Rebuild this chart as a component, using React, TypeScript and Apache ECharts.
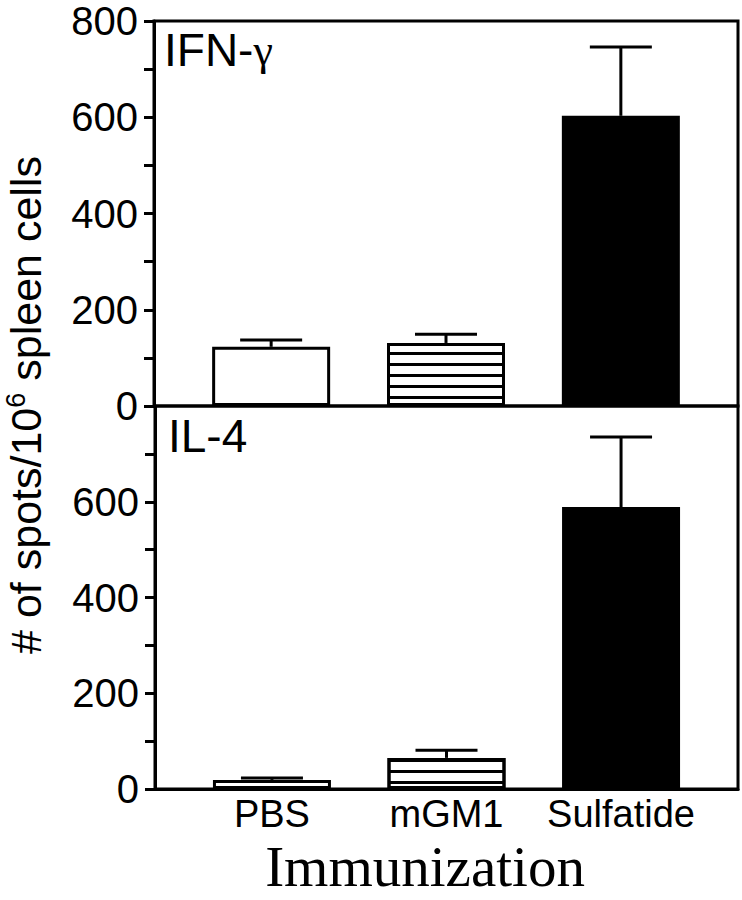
import React, { useEffect, useRef } from "react";
import * as echarts from "echarts";

// ---- data ----
const categories = ["PBS", "mGM1", "Sulfatide"];
const ifnMean = [123, 131, 603];
const ifnUpper = [137, 149, 746];
const il4Mean = [19, 65, 589];
const il4Upper = [23, 81, 735];
const yTickLabels = [0, 200, 400, 600, 800];
const panelLabels = ["IFN-", "IL-4"];
const yTitle = ["# of spots/10", "6", " spleen cells"];
const xTitle = "Immunization";

const SANS = "'Liberation Sans', Arial, Helvetica, sans-serif";
const SERIF = "'Liberation Serif', 'Times New Roman', serif";

const barStyles = [
  { color: "#fff", borderColor: "#000", borderWidth: 3 },
  {
    color: "#fff",
    borderColor: "#000",
    borderWidth: 3,
    decal: {
      symbol: "rect",
      symbolSize: 1,
      dashArrayX: [1, 0],
      dashArrayY: [2.5, 8],
      rotation: 0,
      color: "#000",
    },
  },
  { color: "#000", borderColor: "#000", borderWidth: 0 },
];

function buildBars(means: number[], gridIdx: number) {
  return {
    type: "bar",
    xAxisIndex: gridIdx,
    yAxisIndex: gridIdx,
    barWidth: 118,
    data: means.map((m, i) => ({ value: [i + 1, m], itemStyle: barStyles[i] })),
    z: 2,
  };
}

function buildErr(means: number[], uppers: number[], gridIdx: number) {
  return {
    type: "custom",
    xAxisIndex: gridIdx,
    yAxisIndex: gridIdx,
    data: means.map((m, i) => [i + 1, m, uppers[i]]),
    z: 3,
    renderItem: (params: any, api: any) => {
      const x = api.value(0);
      const lo = api.coord([x, api.value(1)]);
      const hi = api.coord([x, api.value(2)]);
      const half = 31;
      const st = { stroke: "#000", lineWidth: 3 };
      return {
        type: "group",
        children: [
          { type: "line", shape: { x1: lo[0], y1: lo[1], x2: hi[0], y2: hi[1] }, style: st },
          { type: "line", shape: { x1: hi[0] - half, y1: hi[1], x2: hi[0] + half, y2: hi[1] }, style: st },
        ],
      };
    },
  };
}

function yAxisFor(gridIdx: number, hideTop: boolean) {
  return {
    type: "value",
    gridIndex: gridIdx,
    min: 0,
    max: 800,
    interval: 100,
    axisLine: { show: true, lineStyle: { color: "#000", width: 3 } },
    axisTick: { show: true, length: 10, lineStyle: { color: "#000", width: 3 } },
    splitLine: { show: false },
    axisLabel: {
      margin: 16,
      color: "#000",
      fontSize: 40,
      fontFamily: SANS,
      formatter: (v: number) =>
        yTickLabels.includes(v) && !(hideTop && v === 800) ? String(v) : "",
    },
  };
}

export default function App() {
  const ref = useRef<HTMLDivElement>(null);
  useEffect(() => {
    if (!ref.current) return;
    const chart = echarts.init(ref.current, null, { renderer: "svg" });
    const option: any = {
      animation: false,
      backgroundColor: "#fff",
      grid: [
        { left: 154, top: 21, right: 4, height: 385, show: true, borderColor: "#000", borderWidth: 3 },
        { left: 155, top: 406, right: 4, height: 383, show: true, borderColor: "#000", borderWidth: 3 },
      ],
      xAxis: [
        {
          type: "value",
          gridIndex: 0,
          min: 0.33,
          max: 3.67,
          axisLine: { show: false },
          axisTick: { show: false },
          axisLabel: { show: false },
          splitLine: { show: false },
        },
        {
          type: "value",
          gridIndex: 1,
          min: 0.33,
          max: 3.67,
          axisLine: { show: true, onZero: false, lineStyle: { color: "#000", width: 3 } },
          axisTick: { show: false },
          splitLine: { show: false },
          axisLabel: {
            customValues: [1, 2, 3],
            margin: 5,
            color: "#000",
            fontSize: 38,
            fontFamily: SANS,
            lineHeight: 40,
            formatter: (v: number) => categories[Math.round(v) - 1] ?? "",
          },
        },
      ],
      yAxis: [yAxisFor(0, false), yAxisFor(1, true)],
      series: [
        buildBars(ifnMean, 0),
        buildErr(ifnMean, ifnUpper, 0),
        buildBars(il4Mean, 1),
        buildErr(il4Mean, il4Upper, 1),
      ],
      graphic: [
        {
          type: "text",
          x: 164,
          y: 50,
          style: {
            text: `{a|${panelLabels[0]}}{g|γ}`,
            verticalAlign: "middle",
            rich: {
              a: { fontSize: 46, fontFamily: SANS, fill: "#000" },
              g: { fontSize: 44, fontFamily: SERIF, fill: "#000" },
            },
          },
        },
        {
          type: "text",
          x: 168,
          y: 436,
          style: {
            text: panelLabels[1],
            fontSize: 46,
            fontFamily: SANS,
            fill: "#000",
            verticalAlign: "middle",
          },
        },
        {
          type: "text",
          x: 26,
          y: 405,
          rotation: Math.PI / 2,
          style: {
            text: `{a|${yTitle[0]}}{s|${yTitle[1]}}{a|${yTitle[2]}}`,
            align: "center",
            verticalAlign: "middle",
            rich: {
              a: { fontSize: 43, fontFamily: SANS, fill: "#000", lineHeight: 48 },
              s: { fontSize: 27, fontFamily: SANS, fill: "#000", verticalAlign: "top", lineHeight: 48 },
            },
          },
        },
        {
          type: "text",
          x: 425,
          y: 866,
          style: {
            text: xTitle,
            fontSize: 57,
            lineHeight: 58,
            fontFamily: SERIF,
            fill: "#000",
            align: "center",
            verticalAlign: "middle",
          },
        },
      ],
    };
    chart.setOption(option);
    return () => chart.dispose();
  }, []);
  return (
    <div
      ref={ref}
      style={{ position: "absolute", left: 0, top: 0, width: 742, height: 900, background: "#fff" }}
    />
  );
}
